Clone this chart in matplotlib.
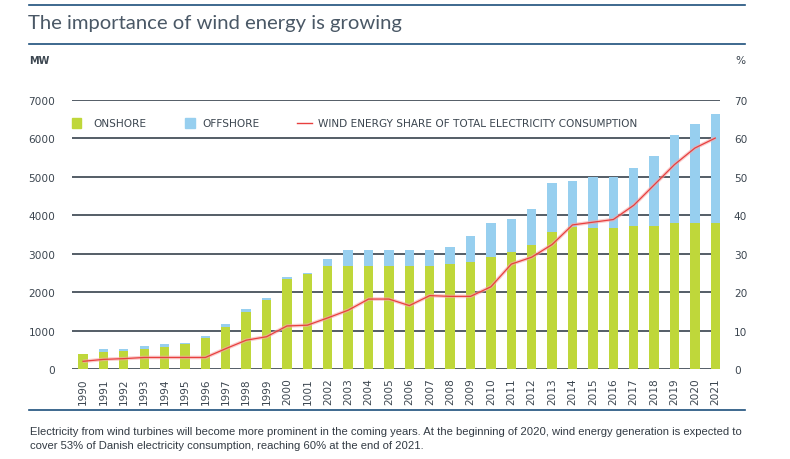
import matplotlib
matplotlib.use("Agg")
import matplotlib.pyplot as plt
import numpy as np

years = ["1990", "1991", "1992", "1993", "1994", "1995", "1996", "1997", "1998", "1999",
         "2000", "1001", "2002", "2003", "2004", "2005", "2006", "2007", "2008", "2009",
         "2010", "2011", "2012", "2013", "2014", "2015", "2016", "2017", "2018", "2019",
         "2020", "2021"]
onshore = [390, 451, 467, 516, 566, 648, 811, 1099, 1486, 1802,
           2333, 2467, 2683, 2683, 2683, 2683, 2683, 2683, 2733, 2783,
           2917, 3036, 3234, 3559, 3685, 3667, 3667, 3721, 3721, 3793,
           3793, 3793]
total = [390, 516, 516, 590, 639, 689, 861, 1171, 1550, 1847,
         2383, 2508, 2858, 3090, 3090, 3090, 3090, 3090, 3171, 3468,
         3793, 3901, 4171, 4847, 4901, 4990, 4990, 5225, 5550, 6080,
         6380, 6628]
offshore = [t - o for t, o in zip(total, onshore)]
share = [2.0, 2.5, 2.7, 3.0, 3.0, 3.0, 3.0, 5.3, 7.5, 8.4,
         11.2, 11.4, 13.3, 15.3, 18.2, 18.2, 16.5, 19.1, 18.9, 18.9,
         21.4, 27.3, 29.1, 32.4, 37.5, 38.2, 38.9, 42.6, 47.9, 53.2,
         57.5, 60.1]

GREEN = "#bfd73a"
BLUE = "#97cfef"
RED = "#e8403f"
TXT = "#3c4650"
GRID = "#46515b"
NAVY = "#1d4f7c"

W, H = 790, 460
fig = plt.figure(figsize=(W / 100, H / 100), dpi=100)

def fx(px):
    return px / W

def fy(py):
    return 1 - py / H

ax_left, ax_right, ax_top, ax_bot = 72, 720, 101, 370
ax = fig.add_axes([fx(ax_left), fy(ax_bot), (ax_right - ax_left) / W, (ax_bot - ax_top) / H])
x = np.arange(len(years))
bw = 0.46
ax.bar(x, onshore, width=bw, color=GREEN, zorder=3)
ax.bar(x, offshore, width=bw, bottom=onshore, color=BLUE, zorder=3)
ax.set_xlim(-0.54, len(years) - 1 + 0.23)
ax.set_ylim(0, 7000)
ax.set_yticks(range(0, 7001, 1000))
ax.yaxis.grid(True, color=GRID, lw=1.3, zorder=1)
ax.set_axisbelow(True)
for s in ax.spines.values():
    s.set_visible(False)
ax.tick_params(axis="both", length=0, colors=TXT, labelsize=7.6)
ax.tick_params(axis="y", pad=12)
ax.set_xticks(x)
ax.set_xticklabels(years, rotation=90, fontsize=7.6, color=TXT)
ax.tick_params(axis="x", pad=6)

ax2 = ax.twinx()
ax2.set_ylim(0, 70)
ax2.set_yticks(range(0, 71, 10))
ax2.plot(x, share, color="#f5a9a9", lw=2.6, alpha=0.6, zorder=4, solid_capstyle="butt")
ax2.plot(x, share, color=RED, lw=0.9, zorder=5)
for s in ax2.spines.values():
    s.set_visible(False)
ax2.tick_params(axis="y", length=0, colors=TXT, labelsize=7.6, pad=10)

# Title and rules
fig.add_artist(plt.Line2D([fx(29), fx(745)], [fy(6), fy(6)], color=NAVY, lw=1.2))
fig.add_artist(plt.Line2D([fx(29), fx(745)], [fy(45), fy(45)], color=NAVY, lw=1.2))
fig.add_artist(plt.Line2D([fx(29), fx(745)], [fy(411), fy(411)], color=NAVY, lw=1.2))
fig.text(fx(28), fy(24), "The importance of wind energy is growing", fontsize=14.6,
         family=["Lato", "DejaVu Sans"], color="#4a5866", va="center", ha="left")
fig.text(fx(29), fy(61), "MW", fontsize=7, color=TXT, va="center", ha="left", weight="bold")
fig.text(fx(745), fy(61), "%", fontsize=7.6, color=TXT, va="center", ha="right")

# Legend
ly = fy(124)
fig.add_artist(plt.Rectangle((fx(71.5), fy(129)), 9.5 / W, 10 / H, color=GREEN))
fig.text(fx(93), ly, "ONSHORE", fontsize=7.6, color=TXT, va="center", ha="left")
fig.add_artist(plt.Rectangle((fx(185), fy(129)), 9.5 / W, 10 / H, color=BLUE))
fig.text(fx(202), ly, "OFFSHORE", fontsize=7.6, color=TXT, va="center", ha="left")
fig.add_artist(plt.Line2D([fx(297), fx(312)], [ly, ly], color=RED, lw=1.0))
fig.text(fx(318), ly, "WIND ENERGY SHARE OF TOTAL ELECTRICITY CONSUMPTION", fontsize=7.6,
         color=TXT, va="center", ha="left")

cap = ("Electricity from wind turbines will become more prominent in the coming years. "
       "At the beginning of 2020, wind energy generation is expected to\n"
       "cover 53% of Danish electricity consumption, reaching 60% at the end of 2021.")
fig.text(fx(30), fy(427), cap, fontsize=8.1, color="#333b44", va="top", ha="left",
         family=["Liberation Sans", "DejaVu Sans"], linespacing=1.55)

fig.savefig("out.png", dpi=100)
